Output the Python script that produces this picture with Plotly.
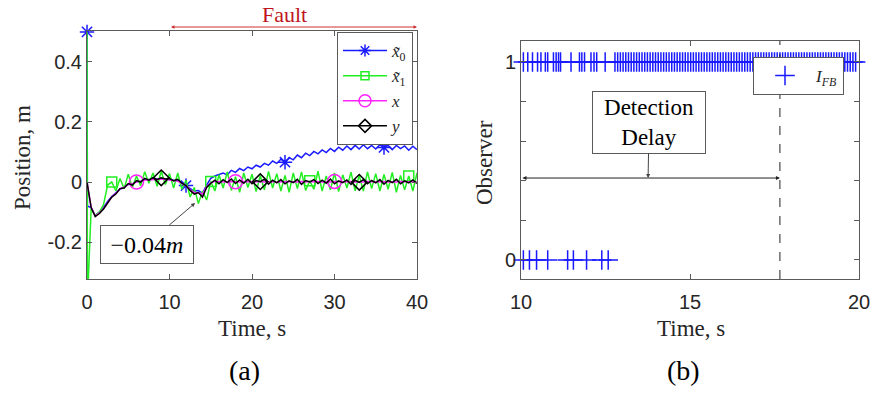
import plotly.graph_objects as go

# ---------------- data: panel (a) ----------------
T = [0.0, 0.5, 1.0, 1.5, 2.0, 2.5, 3.0, 3.5, 4.0, 4.5, 5.0, 5.5, 6.0, 6.5, 7.0, 7.5,
     8.0, 8.5, 9.0, 9.5, 10.0, 10.5, 11.0, 11.5, 12.0, 12.5, 13.0, 13.5, 14.0, 14.5,
     15.0, 15.5, 16.0, 16.5, 17.0, 17.5, 18.0, 18.5, 19.0, 19.5, 20.0, 20.5, 21.0,
     21.5, 22.0, 22.5, 23.0, 23.5, 24.0, 24.5, 25.0, 25.5, 26.0, 26.5, 27.0, 27.5,
     28.0, 28.5, 29.0, 29.5, 30.0, 30.5, 31.0, 31.5, 32.0, 32.5, 33.0, 33.5, 34.0,
     34.5, 35.0, 35.5, 36.0, 36.5, 37.0, 37.5, 38.0, 38.5, 39.0, 39.5, 40.0]

# x~0 (blue) : starts with an initial value 0.5 then a jump
x0_start_t = [0.0, 0.05]
x0_start_v = [0.5, -0.08]
x0_vals = [-0.085, -0.112, -0.1, -0.085, -0.065, -0.048, -0.036, -0.024, -0.016,
           -0.008, -0.006, 0.002, 0.002, 0.008, 0.008, 0.012, 0.01, 0.012, 0.01, 0.01,
           0.006, 0.004, -0.004, -0.012, -0.022, -0.03, -0.028, -0.038, -0.01, 0.012,
           0.02, 0.025, 0.03, 0.024, 0.039, 0.032, 0.045, 0.038, 0.05, 0.044, 0.056,
           0.05, 0.062, 0.056, 0.07, 0.062, 0.076, 0.066, 0.081, 0.074, 0.09, 0.081,
           0.096, 0.088, 0.102, 0.094, 0.107, 0.098, 0.112, 0.102, 0.116, 0.106, 0.12, 0.108,
           0.122, 0.11, 0.124, 0.111, 0.122, 0.11, 0.124, 0.115, 0.122, 0.108, 0.122,
           0.111, 0.12, 0.106, 0.119, 0.108]          # t = 0.5 .. 40

# x~1 (green)
x1_start_t = [0.0, 0.05]
x1_start_v = [0.5, -0.4]
x1_vals = [-0.09, -0.11, -0.1, -0.075, -0.01, 0.0, -0.03, 0.012, -0.022, 0.026,
           -0.018, 0.02, -0.012, 0.034, -0.004, 0.03, -0.014, 0.036, -0.008, 0.028,
           -0.02, 0.03, -0.024, 0.006, -0.05, -0.018, -0.072, -0.03, -0.06, 0.002,
           -0.03, 0.024, -0.02, 0.034, -0.028, 0.018, -0.034, 0.03, -0.018, 0.026,
           -0.032, 0.021, -0.026, 0.035, -0.02, 0.028, -0.03, 0.022, -0.034, 0.03,
           -0.022, 0.034, -0.028, 0.004, -0.024, 0.036, -0.03, 0.02, -0.026, 0.03,
           -0.032, 0.024, -0.02, 0.033, -0.029, 0.022, -0.03, 0.034, -0.022, 0.028,
           -0.03, 0.025, -0.024, 0.032, -0.034, 0.022, -0.026, 0.02, -0.03, 0.03]  # t = 0.5 .. 40

# x (magenta)
x_vals = [0.0, -0.083, -0.113, -0.103, -0.088, -0.069, -0.05, -0.038, -0.023, -0.018,
          -0.007, -0.006, 0.0, 0.003, 0.007, 0.007, 0.009, 0.009, 0.01, 0.009, 0.008,
          0.005, 0.003, -0.004, -0.012, -0.025, -0.036, -0.036, -0.04, -0.016, -0.003,
          0.002, 0.001, 0.002, 0.0, 0.002, 0.001, 0.0, 0.002, 0.001, 0.0, 0.001,
          0.002, 0.0, 0.001, 0.002, 0.0, 0.001, 0.0, 0.002, 0.001, 0.0, 0.002, 0.001,
          0.0, 0.001, 0.002, 0.0, 0.001, 0.0, 0.002, 0.001, 0.0, 0.001, 0.002, 0.0,
          0.001, 0.0, 0.002, 0.001, 0.0, 0.001, 0.002, 0.0, 0.001, 0.0, 0.002, 0.001,
          0.0, 0.001, 0.0]

# y (black)
y_vals = [0.0, -0.085, -0.115, -0.105, -0.09, -0.07, -0.05, -0.04, -0.022, -0.02,
          -0.005, -0.01, 0.005, 0.0, 0.012, 0.006, 0.015, 0.008, 0.014, 0.01, 0.012,
          0.004, 0.009, -0.004, -0.012, -0.028, -0.04, -0.035, -0.05, -0.018, -0.004,
          0.006, -0.006, 0.008, -0.002, 0.01, -0.005, 0.007, -0.004, 0.009, -0.006,
          0.005, 0.001, 0.009, -0.007, 0.006, -0.003, 0.008, -0.006, 0.004, -0.002,
          0.009, -0.008, 0.005, 0.0, 0.008, -0.005, 0.006, -0.004, 0.01, -0.006, 0.004,
          -0.002, 0.007, -0.008, 0.006, -0.001, 0.008, -0.006, 0.005, -0.003, 0.008,
          -0.007, 0.005, -0.002, 0.009, -0.006, 0.004, -0.003, 0.007, -0.005]

x0_marker_t = [0.0, 12.0, 24.0, 36.0]
x1_marker_t = [3.0, 15.0, 27.0, 39.0]
x_marker_t = [6.0, 18.0, 30.0]
y_marker_t = [9.0, 21.0, 33.0]

fault_start, fault_end = 10, 40
annot_a_point = (13.1, -0.07)

# ---------------- data: panel (b) ----------------
ifb_one_t = [10.07, 10.20, 10.34, 10.49, 10.59, 10.72, 10.79, 10.96, 11.04, 11.11,
             11.17, 11.48, 11.73, 11.80, 11.88, 12.07, 12.16, 12.24, 12.49, 12.78,
             12.86, 12.94, 13.02, 13.10, 13.18, 13.26, 13.34, 13.42, 13.50, 13.58,
             13.66, 13.74, 13.82, 13.90, 13.98, 14.06, 14.14, 14.22, 14.30, 14.38,
             14.46, 14.54, 14.62, 14.70, 14.78, 14.86, 14.94, 15.02, 15.10, 15.18,
             15.26, 15.34, 15.42, 15.50, 15.58, 15.66, 15.74, 15.82, 15.90, 15.98,
             16.06, 16.14, 16.22, 16.30, 16.38, 16.46, 16.54, 16.62, 16.70, 16.78,
             16.86, 16.94, 17.02, 17.10, 17.18, 17.26, 17.34, 17.42, 17.50, 17.58,
             17.66, 17.74, 17.82, 17.90, 17.98, 18.06, 18.14, 18.22, 18.30, 18.38,
             18.46, 18.54, 18.62, 18.70, 18.78, 18.86, 18.94, 19.02, 19.10, 19.18,
             19.26, 19.34, 19.42, 19.50, 19.58, 19.66, 19.74, 19.82, 19.90]
ifb_zero_t = [10.07, 10.25, 10.46, 10.79, 11.38, 11.55, 11.94, 12.39, 12.58]
detection_time = 17.66
delay_arrow_level = 0.414

# ---------------- helpers ----------------
def lookup(ts, vs, wanted):
    d = dict(zip(ts, vs))
    return [d[w] for w in wanted]

x0_t = x0_start_t + T[1:]
x0_v = x0_start_v + x0_vals
x1_t = x1_start_t + T[1:]
x1_v = x1_start_v + x1_vals

SERIF = "Liberation Serif"
SANS = "Liberation Sans"
AX = "#5a5a5a"
TXT = "#262626"

BLUE, GREEN, MAG, BLK = "#1a1aff", "#22ee22", "#ff22ff", "#000000"

fig = go.Figure()

series = [
    ("<i>x\u0303</i><sub>0</sub>", x0_t, x0_v, x0_marker_t, BLUE, "asterisk-open", 12),
    ("<i>x\u0303</i><sub>1</sub>", x1_t, x1_v, x1_marker_t, GREEN, "square-open", 10),
    ("<i>x</i>", T, x_vals, x_marker_t, MAG, "circle-open", 14),
    ("<i>y</i>", T, y_vals, y_marker_t, BLK, "diamond-open", 12),
]
for name, ts, vs, mts, col, sym, sz in series:
    fig.add_trace(go.Scatter(x=ts, y=vs, mode="lines", line=dict(color=col, width=1.5),
                             showlegend=False, xaxis="x", yaxis="y"))
    fig.add_trace(go.Scatter(x=mts, y=lookup(ts, vs, mts), mode="markers",
                             marker=dict(symbol=sym, size=sz, color=col,
                                         line=dict(color=col, width=1.5)),
                             cliponaxis=False, showlegend=False, xaxis="x", yaxis="y"))
    fig.add_trace(go.Scatter(x=[None], y=[None], mode="lines+markers", name=name,
                             line=dict(color=col, width=1.5),
                             marker=dict(symbol=sym, size=sz - 2, color=col,
                                         line=dict(color=col, width=1.5)),
                             xaxis="x", yaxis="y", legend="legend"))

# panel (b)
fig.add_trace(go.Scatter(x=ifb_one_t, y=[1] * len(ifb_one_t), mode="markers",
                         marker=dict(symbol="cross-thin", size=14,
                                     line=dict(color=BLUE, width=1.5)),
                         cliponaxis=False, name="<i>I</i><sub><i>FB</i></sub>",
                         xaxis="x2", yaxis="y2", legend="legend2"))
fig.add_trace(go.Scatter(x=ifb_zero_t, y=[0] * len(ifb_zero_t), mode="markers",
                         marker=dict(symbol="cross-thin", size=14,
                                     line=dict(color=BLUE, width=1.5)),
                         cliponaxis=False, showlegend=False, xaxis="x2", yaxis="y2"))

W, H = 871, 395
def px(xp): return xp / W
def py(yp): return (H - yp) / H

axis_common = dict(showline=True, linecolor=AX, linewidth=1, mirror="ticks",
                   ticks="inside", ticklen=5, tickcolor=AX, showgrid=False,
                   zeroline=False, tickfont=dict(family=SANS, size=20, color=TXT))

fig.update_layout(
    width=W, height=H, margin=dict(l=0, r=0, t=0, b=0, autoexpand=False),
    paper_bgcolor="white", plot_bgcolor="white",
    xaxis=dict(domain=[px(87), px(417)], range=[0, 40], tickvals=[0, 10, 20, 30, 40],
               anchor="y", ticklabelstandoff=5, **axis_common),
    yaxis=dict(domain=[py(279), py(31)], range=[-0.323, 0.503],
               tickvals=[-0.2, 0, 0.2, 0.4], ticktext=["-0.2", "0", "0.2", "0.4"],
               anchor="x", ticklabelstandoff=0, **axis_common),
    xaxis2=dict(domain=[px(521), px(859)], range=[10, 20], tickvals=[10, 15, 20],
                anchor="y2", ticklabelstandoff=5, **axis_common),
    yaxis2=dict(domain=[py(279), py(41)], range=[-0.096, 1.106],
                tickvals=[0, 1], ticktext=["0", "1"],
                minor=dict(tickmode="array", tickvals=[0.2, 0.4, 0.6, 0.8],
                           ticks="inside", ticklen=5, tickcolor=AX),
                anchor="x2", ticklabelstandoff=0, **axis_common),
    legend=dict(x=px(413), xanchor="right", y=py(32), yanchor="top",
                bgcolor="white", bordercolor=AX, borderwidth=1,
                font=dict(family=SERIF, size=17, color=TXT), tracegroupgap=0,
                itemwidth=44),
    legend2=dict(x=px(844), xanchor="right", y=py(57), yanchor="top",
                 bgcolor="white", bordercolor=AX, borderwidth=1, itemwidth=52,
                 font=dict(family=SERIF, size=17, color=TXT)),
)

ann = []
def label(text, xp, yp, size=23, angle=0, color=TXT):
    ann.append(dict(text=text, x=px(xp), y=py(yp), xref="paper", yref="paper",
                    xanchor="center", yanchor="middle", textangle=angle,
                    showarrow=False, font=dict(family=SERIF, size=size, color=color)))

label("Position, m", 22, 158, angle=-90)
label("Observer", 484, 163, angle=-90)
label("Time, s", 252, 328)
label("Time, s", 691, 328)
label("(a)", 245, 370, size=28, color="black")
label("(b)", 683, 370, size=28, color="black")
label("Fault", 284, 15, size=22, color="#c0141c")

# red double arrow marking the fault interval
fault_y = (279 - 27) / (279 - 31)
ann.append(dict(text="", x=fault_end, xref="x", y=fault_y, yref="y domain",
                ax=fault_start, axref="x", ay=fault_y, ayref="y domain", showarrow=True,
                arrowhead=2, startarrowhead=2, arrowside="end+start", arrowsize=0.7,
                arrowwidth=1, arrowcolor="#d03030"))
# -0.04m callout
ann.append(dict(text="\u22120.04<i>m</i>", x=annot_a_point[0], y=annot_a_point[1],
                xref="x", yref="y", ax=-48, ay=41, showarrow=True, arrowhead=2,
                arrowsize=0.8, arrowwidth=1, arrowcolor="#444",
                bgcolor="white", bordercolor=AX, borderwidth=1, width=90, height=35,
                font=dict(family=SERIF, size=24, color="black")))
# Detection delay
ann.append(dict(text="", x=detection_time, xref="x2", y=delay_arrow_level, yref="y2",
                ax=10, axref="x2", ay=delay_arrow_level, ayref="y2", showarrow=True,
                arrowhead=2, startarrowhead=2, arrowside="end+start", arrowsize=0.8,
                arrowwidth=1, arrowcolor="#222"))
ann.append(dict(text="Detection<br>Delay", x=13.76, y=delay_arrow_level, xref="x2",
                yref="y2", ax=1, ay=-56, showarrow=True, arrowhead=2, arrowsize=0.8,
                arrowwidth=1, arrowcolor="#444", bgcolor="white", bordercolor=AX,
                borderwidth=1, width=110, height=59,
                font=dict(family=SERIF, size=23, color="black")))
fig.update_layout(annotations=ann)

fig.add_shape(type="line", x0=detection_time, x1=detection_time, xref="x2",
              y0=0, y1=1, yref="y2 domain", line=dict(color="#222", width=1, dash="dash"))

fig.write_html("out.html")
